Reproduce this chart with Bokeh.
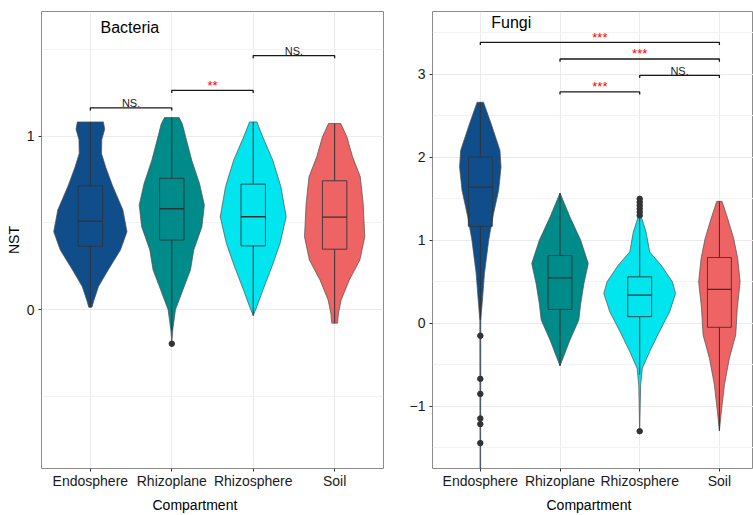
from bokeh.plotting import figure
from bokeh.layouts import row
from bokeh.models import Range1d, FixedTicker, Label, Title
from bokeh.core.properties import value
from bokeh.embed import file_html
from bokeh.resources import INLINE

FONT = "Liberation Sans"

compartments = ["Endosphere", "Rhizoplane", "Rhizosphere", "Soil"]
colors = ["#104E8B", "#008B8B", "#00E5EE", "#EE6363"]

# ---------------- Bacteria (NST) ----------------
bac_violin_y = [
    [0.015, 0.057, 0.134, 0.23, 0.345, 0.45, 0.575, 0.718, 0.82, 0.90, 0.98, 1.04, 1.082],
    [-0.195, -0.115, 0.0, 0.115, 0.23, 0.345, 0.479, 0.603, 0.728, 0.862, 0.996, 1.07, 1.107],
    [-0.034, 0.019, 0.115, 0.249, 0.383, 0.536, 0.709, 0.862, 0.996, 1.082],
    [-0.077, -0.019, 0.057, 0.172, 0.287, 0.421, 0.613, 0.766, 0.881, 0.996, 1.073],
]
bac_violin_w = [
    [0.02, 0.045, 0.10, 0.22, 0.37, 0.45, 0.40, 0.27, 0.19, 0.137, 0.14, 0.176, 0.16],
    [0.0, 0.012, 0.045, 0.137, 0.23, 0.27, 0.37, 0.40, 0.34, 0.245, 0.17, 0.13, 0.09],
    [0.0, 0.045, 0.12, 0.23, 0.33, 0.405, 0.34, 0.24, 0.117, 0.045],
    [0.035, 0.047, 0.08, 0.18, 0.31, 0.37, 0.35, 0.315, 0.22, 0.15, 0.075],
]
bac_q1 = [0.366, 0.402, 0.368, 0.349]
bac_med = [0.511, 0.582, 0.536, 0.534]
bac_q3 = [0.714, 0.757, 0.724, 0.743]
bac_wlo = [0.015, -0.12, -0.034, -0.077]
bac_whi = [1.082, 1.107, 1.082, 1.073]
bac_out_x = [2]
bac_out_y = [-0.195]
bac_sig_x1 = [1, 2, 3]
bac_sig_x2 = [2, 3, 4]
bac_sig_y = [1.163, 1.264, 1.464]
bac_sig_lab = ["NS.", "**", "NS."]
bac_yticks = [0, 1]
bac_yminor = [-0.5, 0.5, 1.5]

# ---------------- Fungi ----------------
fun_violin_y = [
    [-1.80, 0.04, 0.32, 0.6, 1.0, 1.281, 1.602, 1.882, 2.083, 2.404, 2.664],
    [-0.513, -0.2, 0.04, 0.24, 0.48, 0.721, 1.0, 1.281, 1.44, 1.570],
    [-1.30, -0.74, -0.54, -0.34, -0.10, 0.14, 0.36, 0.50, 0.70, 0.86, 1.10, 1.28],
    [-1.295, -1.06, -0.74, -0.42, -0.14, 0.18, 0.5, 0.78, 1.02, 1.26, 1.47],
]
fun_violin_w = [
    [0.004, 0.006, 0.03, 0.052, 0.105, 0.157, 0.23, 0.26, 0.247, 0.136, 0.04],
    [0.0, 0.125, 0.236, 0.26, 0.30, 0.355, 0.26, 0.125, 0.056, 0.0],
    [0.0, 0.012, 0.033, 0.125, 0.247, 0.376, 0.45, 0.41, 0.27, 0.125, 0.08, 0.02],
    [0.0, 0.025, 0.063, 0.125, 0.205, 0.224, 0.26, 0.23, 0.18, 0.105, 0.033],
]
fun_q1 = [1.169, 0.168, 0.08, -0.048]
fun_med = [1.642, 0.548, 0.34, 0.409]
fun_q3 = [2.003, 0.817, 0.56, 0.793]
fun_wlo = [0.04, -0.513, -0.62, -1.295]
fun_whi = [2.664, 1.570, 1.26, 1.47]
fun_out_x = [1, 1, 1, 1, 1, 1, 3, 3, 3, 3, 3, 3, 3]
fun_out_y = [-0.149, -0.669, -0.85, -1.146, -1.214, -1.443,
             -1.30, 1.30, 1.34, 1.38, 1.42, 1.46, 1.50]
fun_sig_x1 = [1, 2, 3, 2]
fun_sig_x2 = [4, 4, 4, 3]
fun_sig_y = [3.385, 3.185, 2.988, 2.788]
fun_sig_lab = ["***", "***", "NS.", "***"]
fun_yticks = [-1, 0, 1, 2, 3]
fun_yminor = [-1.5, -0.5, 0.5, 1.5, 2.5, 3.5]


def make_panel(width, x_end, y_range, border_left, border_right, vy, vw, q1, med, q3,
               wlo, whi, out_x, out_y, sx1, sx2, sy, slab, yticks, yminor, title,
               title_xy, ylabel, comp_offset):
    p = figure(width=width, height=515, output_backend="svg", toolbar_location=None,
               x_range=Range1d(0.4, x_end), y_range=Range1d(*y_range),
               min_border_left=border_left, min_border_right=border_right,
               min_border_top=11, min_border_bottom=46,
               background_fill_color="white", border_fill_color="white")
    p.outline_line_color = "#8C8C8C"
    p.outline_line_width = 1

    xt = FixedTicker(ticks=[1, 2, 3, 4])
    yt = FixedTicker(ticks=yticks, minor_ticks=yminor)
    p.xaxis.ticker = xt
    p.xgrid.ticker = xt
    p.yaxis.ticker = yt
    p.ygrid.ticker = yt
    p.xgrid.grid_line_color = "#EBEBEB"
    p.ygrid.grid_line_color = "#EBEBEB"
    p.ygrid.minor_grid_line_color = "#F2F2F2"
    p.xgrid.grid_line_width = 1.1
    p.ygrid.grid_line_width = 1.1
    p.ygrid.minor_grid_line_width = 1

    p.xaxis.major_label_overrides = {i + 1: c for i, c in enumerate(compartments)}
    p.yaxis.major_label_overrides = {t: (("\u2212" + str(-t)) if t < 0 else str(t)) for t in yticks}
    for ax in (p.xaxis, p.yaxis):
        ax.axis_line_color = None
        ax.minor_tick_line_color = None
        ax.major_tick_in = 0
        ax.major_tick_out = 3
        ax.major_tick_line_color = "#333333"
        ax.major_label_standoff = 3
        ax.major_label_text_font = FONT
        ax.major_label_text_font_size = "14px"
        ax.major_label_text_color = "#1A1A1A"
    p.xaxis.major_label_standoff = 1
    if ylabel:
        p.yaxis.axis_label = ylabel
        p.yaxis.axis_label_text_font = FONT
        p.yaxis.axis_label_text_font_size = "14px"
        p.yaxis.axis_label_text_font_style = "normal"
        p.yaxis.axis_label_text_color = "#000000"
        p.yaxis.axis_label_standoff = 2

    cats = [1, 2, 3, 4]
    # violins
    for i in range(4):
        c = cats[i]
        ys = vy[i] + vy[i][::-1]
        xs = [c - w for w in vw[i]] + [c + w for w in vw[i][::-1]]
        p.patch(xs, ys, fill_color=colors[i], line_color="#4D4D4D", line_width=0.7,
                line_join="round")
    # whiskers
    p.segment(x0=cats, y0=wlo, x1=cats, y1=q1, line_color="#333333", line_width=1)
    p.segment(x0=cats, y0=q3, x1=cats, y1=whi, line_color="#333333", line_width=1)
    # boxes
    bw = 0.15
    p.quad(left=[c - bw for c in cats], right=[c + bw for c in cats], bottom=q1, top=q3,
           fill_color=colors, line_color="#333333", line_width=1, line_alpha=0.85)
    p.segment(x0=[c - bw for c in cats], y0=med, x1=[c + bw for c in cats], y1=med,
              line_color="#333333", line_width=1.3)
    # outliers
    p.scatter(out_x, out_y, size=5.5, color="#333333")

    # significance brackets
    span = y_range[1] - y_range[0]
    tip = 0.0059 * span
    xs_b = [[a, a, b, b] for a, b in zip(sx1, sx2)]
    ys_b = [[y - tip, y, y, y - tip] for y in sy]
    p.multi_line(xs_b, ys_b, line_color="#1A1A1A", line_width=1.3)
    for a, b, y, lab in zip(sx1, sx2, sy, slab):
        is_star = lab.startswith("*")
        p.text(x=[(a + b) / 2], y=[y], text=[lab], text_align="center",
               text_baseline="alphabetic",
               y_offset=-5 if is_star else -4.5,
               text_font=value(FONT),
               text_font_size="13px" if is_star else "11px",
               text_color="#FF0000" if is_star else "#1A1A1A")

    p.add_layout(Label(x=title_xy[0], y=title_xy[1], text=title, text_font=FONT,
                       text_font_size="16px", text_baseline="middle", text_color="#000000"))
    p.add_layout(Title(text="Compartment", align="left", offset=comp_offset, standoff=6,
                       text_font=FONT, text_font_size="14px", text_font_style="normal",
                       text_color="#000000"), "below")
    return p


p1 = make_panel(390, 4.6, (-0.914, 1.718), 41, 7, bac_violin_y, bac_violin_w,
                bac_q1, bac_med, bac_q3, bac_wlo, bac_whi, bac_out_x, bac_out_y,
                bac_sig_x1, bac_sig_x2, bac_sig_y, bac_sig_lab, bac_yticks, bac_yminor,
                "Bacteria", (1.125, 1.623), "NST", 111)
p2 = make_panel(363, 4.428, (-1.749, 3.757), 42, 0, fun_violin_y, fun_violin_w,
                fun_q1, fun_med, fun_q3, fun_wlo, fun_whi, fun_out_x, fun_out_y,
                fun_sig_x1, fun_sig_x2, fun_sig_y, fun_sig_lab, fun_yticks, fun_yminor,
                "Fungi", (1.137, 3.625), None, 114)

layout = row(p1, p2)
open("out.html", "w").write(file_html(layout, INLINE))
